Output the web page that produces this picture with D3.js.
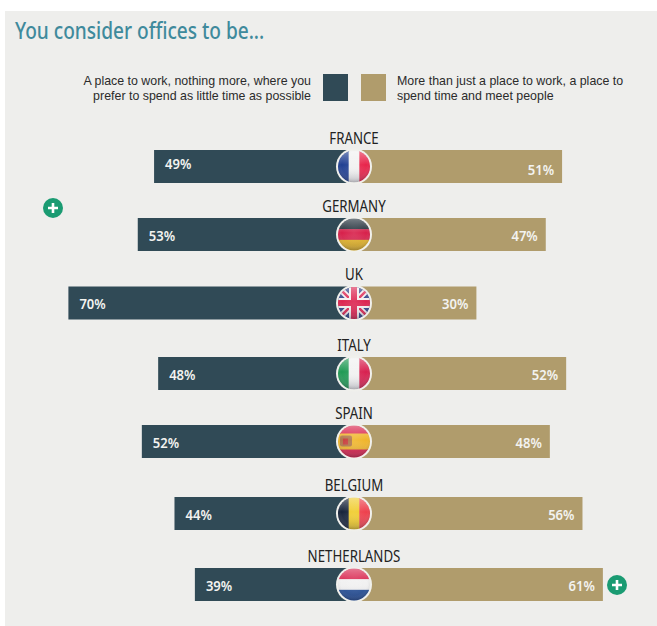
<!DOCTYPE html>
<html>
<head>
<meta charset="utf-8">
<style>
  html, body { margin: 0; padding: 0; background: #fff; }
  svg { display: block; }
  text { font-family: "Noto Sans", "Liberation Sans", sans-serif; }
  .legendLeft, .legendRight { font-family: "Liberation Sans", sans-serif; }
</style>
<script src="https://cdn.jsdelivr.net/npm/d3@7"></script>
</head>
<body>
<div id="chart"></div>
<script>
var countries = ["FRANCE", "GERMANY", "UK", "ITALY", "SPAIN", "BELGIUM", "NETHERLANDS"];
var placeToWork = [49, 53, 70, 48, 52, 44, 39];
var moreThanWork = [51, 47, 30, 52, 48, 56, 61];
var legendLeft = ["A place to work, nothing more, where you", "prefer to spend as little time as possible"];
var legendRight = ["More than just a place to work, a place to", "spend time and meet people"];

var svgWidth = 657;
var svgHeight = 626;
var centerX = 354;
var darkColor = "#304a56";
var tanColor = "#b09c6c";
var rowCenters = [166.5, 234.5, 303, 373.5, 441.5, 513.5, 584.5];

// flag stripes per country, the UK is drawn by hand below
var flags = {
  FRANCE: { dir: "v", colors: ["#1f3f92", "#f1f1f1", "#e8244a"] },
  GERMANY: { dir: "h", colors: ["#1d2b36", "#d8204a", "#e3b324"] },
  ITALY: { dir: "v", colors: ["#1f9a54", "#f1f1f1", "#d8204f"] },
  SPAIN: { dir: "h", colors: ["#d8204a", "#f0b52a", "#f0b52a", "#d8204a"] },
  BELGIUM: { dir: "v", colors: ["#16233a", "#f0cb2a", "#ee3f4c"] },
  NETHERLANDS: { dir: "h", colors: ["#d8204a", "#f1f1f1", "#1f4a94"] }
};

var svg = d3.select("#chart")
  .append("svg")
  .attr("width", svgWidth)
  .attr("height", svgHeight);

// no condensed font is installed, so squeeze the text horizontally
function narrow(selection, factor, x, y) {
  selection.attr("transform", function(d, i) {
    var px = typeof x === "function" ? x(d, i) : x;
    var py = typeof y === "function" ? y(d, i) : y;
    return `translate(${px}, ${py}) scale(${factor}, 1)`;
  });
}

svg.append("rect")
  .attr("x", 5)
  .attr("y", 11)
  .attr("width", svgWidth - 5)
  .attr("height", svgHeight - 11)
  .attr("fill", "#eeeeec");

svg.append("text")
  .attr("font-size", 23)
  .attr("font-weight", 500)
  .attr("fill", "#3f8a9c")
  .text("You consider offices to be...")
  .call(narrow, 0.83, 15, 39);

// legend
svg.append("rect").attr("x", 323).attr("y", 74).attr("width", 25).attr("height", 27).attr("fill", darkColor);
svg.append("rect").attr("x", 361).attr("y", 74).attr("width", 25).attr("height", 27).attr("fill", tanColor);

svg.selectAll(".legendLeft")
  .data(legendLeft)
  .enter()
  .append("text")
  .attr("class", "legendLeft")
  .attr("text-anchor", "end")
  .attr("font-size", 12.6)
  .attr("fill", "#2b2b2b")
  .text(d => d)
  .call(narrow, 0.985, 311, (d, i) => 85 + i * 14.5);

svg.selectAll(".legendRight")
  .data(legendRight)
  .enter()
  .append("text")
  .attr("class", "legendRight")
  .attr("font-size", 12.6)
  .attr("fill", "#2b2b2b")
  .text(d => d)
  .call(narrow, 0.985, 397, (d, i) => 85 + i * 14.5);

var xScale = d3.scaleLinear().domain([0, 100]).range([0, 408]);

var yScale = d3.scaleOrdinal()
  .domain(countries)
  .range(rowCenters);

var defs = svg.append("defs");

var shade = defs.append("radialGradient")
  .attr("id", "shade")
  .attr("cx", "50%")
  .attr("cy", "45%")
  .attr("r", "55%");
shade.append("stop").attr("offset", "0%").attr("stop-color", "#fff").attr("stop-opacity", 0.1);
shade.append("stop").attr("offset", "70%").attr("stop-color", "#fff").attr("stop-opacity", 0);
shade.append("stop").attr("offset", "100%").attr("stop-color", "#000").attr("stop-opacity", 0.12);

var gloss = defs.append("linearGradient")
  .attr("id", "gloss")
  .attr("x1", 0).attr("x2", 0).attr("y1", 0).attr("y2", 1);
gloss.append("stop").attr("offset", "0%").attr("stop-color", "#fff").attr("stop-opacity", 0.4);
gloss.append("stop").attr("offset", "45%").attr("stop-color", "#fff").attr("stop-opacity", 0);
gloss.append("stop").attr("offset", "100%").attr("stop-color", "#3a3a50").attr("stop-opacity", 0.3);

defs.append("clipPath")
  .attr("id", "ball")
  .append("circle")
  .attr("r", 16);

var barHeight = 33;

var rows = svg.selectAll(".row")
  .data(countries)
  .enter()
  .append("g")
  .attr("class", "row")
  .attr("transform", d => `translate(${centerX}, ${yScale(d)})`);

rows.append("rect")
  .attr("x", (d, i) => -xScale(placeToWork[i]))
  .attr("y", -barHeight / 2)
  .attr("width", (d, i) => xScale(placeToWork[i]))
  .attr("height", barHeight)
  .attr("fill", darkColor);

rows.append("rect")
  .attr("x", 0)
  .attr("y", -barHeight / 2)
  .attr("width", (d, i) => xScale(moreThanWork[i]))
  .attr("height", barHeight)
  .attr("fill", tanColor);

rows.append("text")
  .attr("text-anchor", "middle")
  .attr("font-size", 16)
  .attr("fill", "#222")
  .text(d => d)
  .call(narrow, 0.83, 0, -23);

// France has its labels staggered in the original
rows.append("text")
  .attr("font-size", 15)
  .attr("font-weight", 600)
  .attr("fill", "#f3f3f0")
  .text((d, i) => placeToWork[i] + "%")
  .call(narrow, 0.87, (d, i) => -xScale(placeToWork[i]) + 11, d => d === "FRANCE" ? 2 : 6);

rows.append("text")
  .attr("text-anchor", "end")
  .attr("font-size", 15)
  .attr("font-weight", 600)
  .attr("fill", "#f3f3f0")
  .text((d, i) => moreThanWork[i] + "%")
  .call(narrow, 0.87, (d, i) => xScale(moreThanWork[i]) - 8, d => d === "FRANCE" ? 8 : 6);

// flags
var balls = rows.append("g");

balls.append("circle")
  .attr("r", 18)
  .attr("fill", "#f0f0ec");

var inner = balls.append("g").attr("clip-path", "url(#ball)");

inner.each(function(name) {
  var g = d3.select(this);
  var flag = flags[name];

  if (flag) {
    var band = d3.scaleBand().domain(d3.range(flag.colors.length)).range([-16, 16]);
    g.selectAll("rect")
      .data(flag.colors)
      .enter()
      .append("rect")
      .attr("x", (c, i) => flag.dir === "v" ? band(i) : -16)
      .attr("y", (c, i) => flag.dir === "h" ? band(i) : -16)
      .attr("width", flag.dir === "v" ? band.bandwidth() + 0.5 : 32)
      .attr("height", flag.dir === "h" ? band.bandwidth() + 0.5 : 32)
      .attr("fill", c => c);
  } else {
    g.append("rect").attr("x", -16).attr("y", -16).attr("width", 32).attr("height", 32).attr("fill", "#2a3f85");
    g.append("path").attr("d", "M-16,-16L16,16M16,-16L-16,16").attr("stroke", "#f4f0f0").attr("stroke-width", 6);
    g.append("path").attr("d", "M-16,-16L16,16M16,-16L-16,16").attr("stroke", "#dc2450").attr("stroke-width", 2.5);
    g.append("path").attr("d", "M0,-16V16M-16,0H16").attr("stroke", "#f4f0f0").attr("stroke-width", 10);
    g.append("path").attr("d", "M0,-16V16M-16,0H16").attr("stroke", "#dc2450").attr("stroke-width", 6);
  }

  if (name === "SPAIN") {
    // small coat of arms
    g.append("rect").attr("x", -14).attr("y", -6).attr("width", 12).attr("height", 11).attr("rx", 2).attr("fill", "#b0764a");
    g.append("rect").attr("x", -11).attr("y", -3).attr("width", 5).attr("height", 6).attr("fill", "#c9403f");
  }
});

inner.append("circle").attr("r", 16).attr("fill", "url(#gloss)");
inner.append("circle").attr("r", 16).attr("fill", "url(#shade)");

// plus buttons
var plusSpots = [[53, 208], [617, 585]];
var plus = svg.selectAll(".plus")
  .data(plusSpots)
  .enter()
  .append("g")
  .attr("class", "plus")
  .attr("transform", d => `translate(${d[0]}, ${d[1]})`);

plus.append("circle").attr("r", 10).attr("fill", "#1a9b72");
plus.append("path")
  .attr("d", "M-5,0H5M0,-5V5")
  .attr("stroke", "#fff")
  .attr("stroke-width", 2.6);
</script>
</body>
</html>
